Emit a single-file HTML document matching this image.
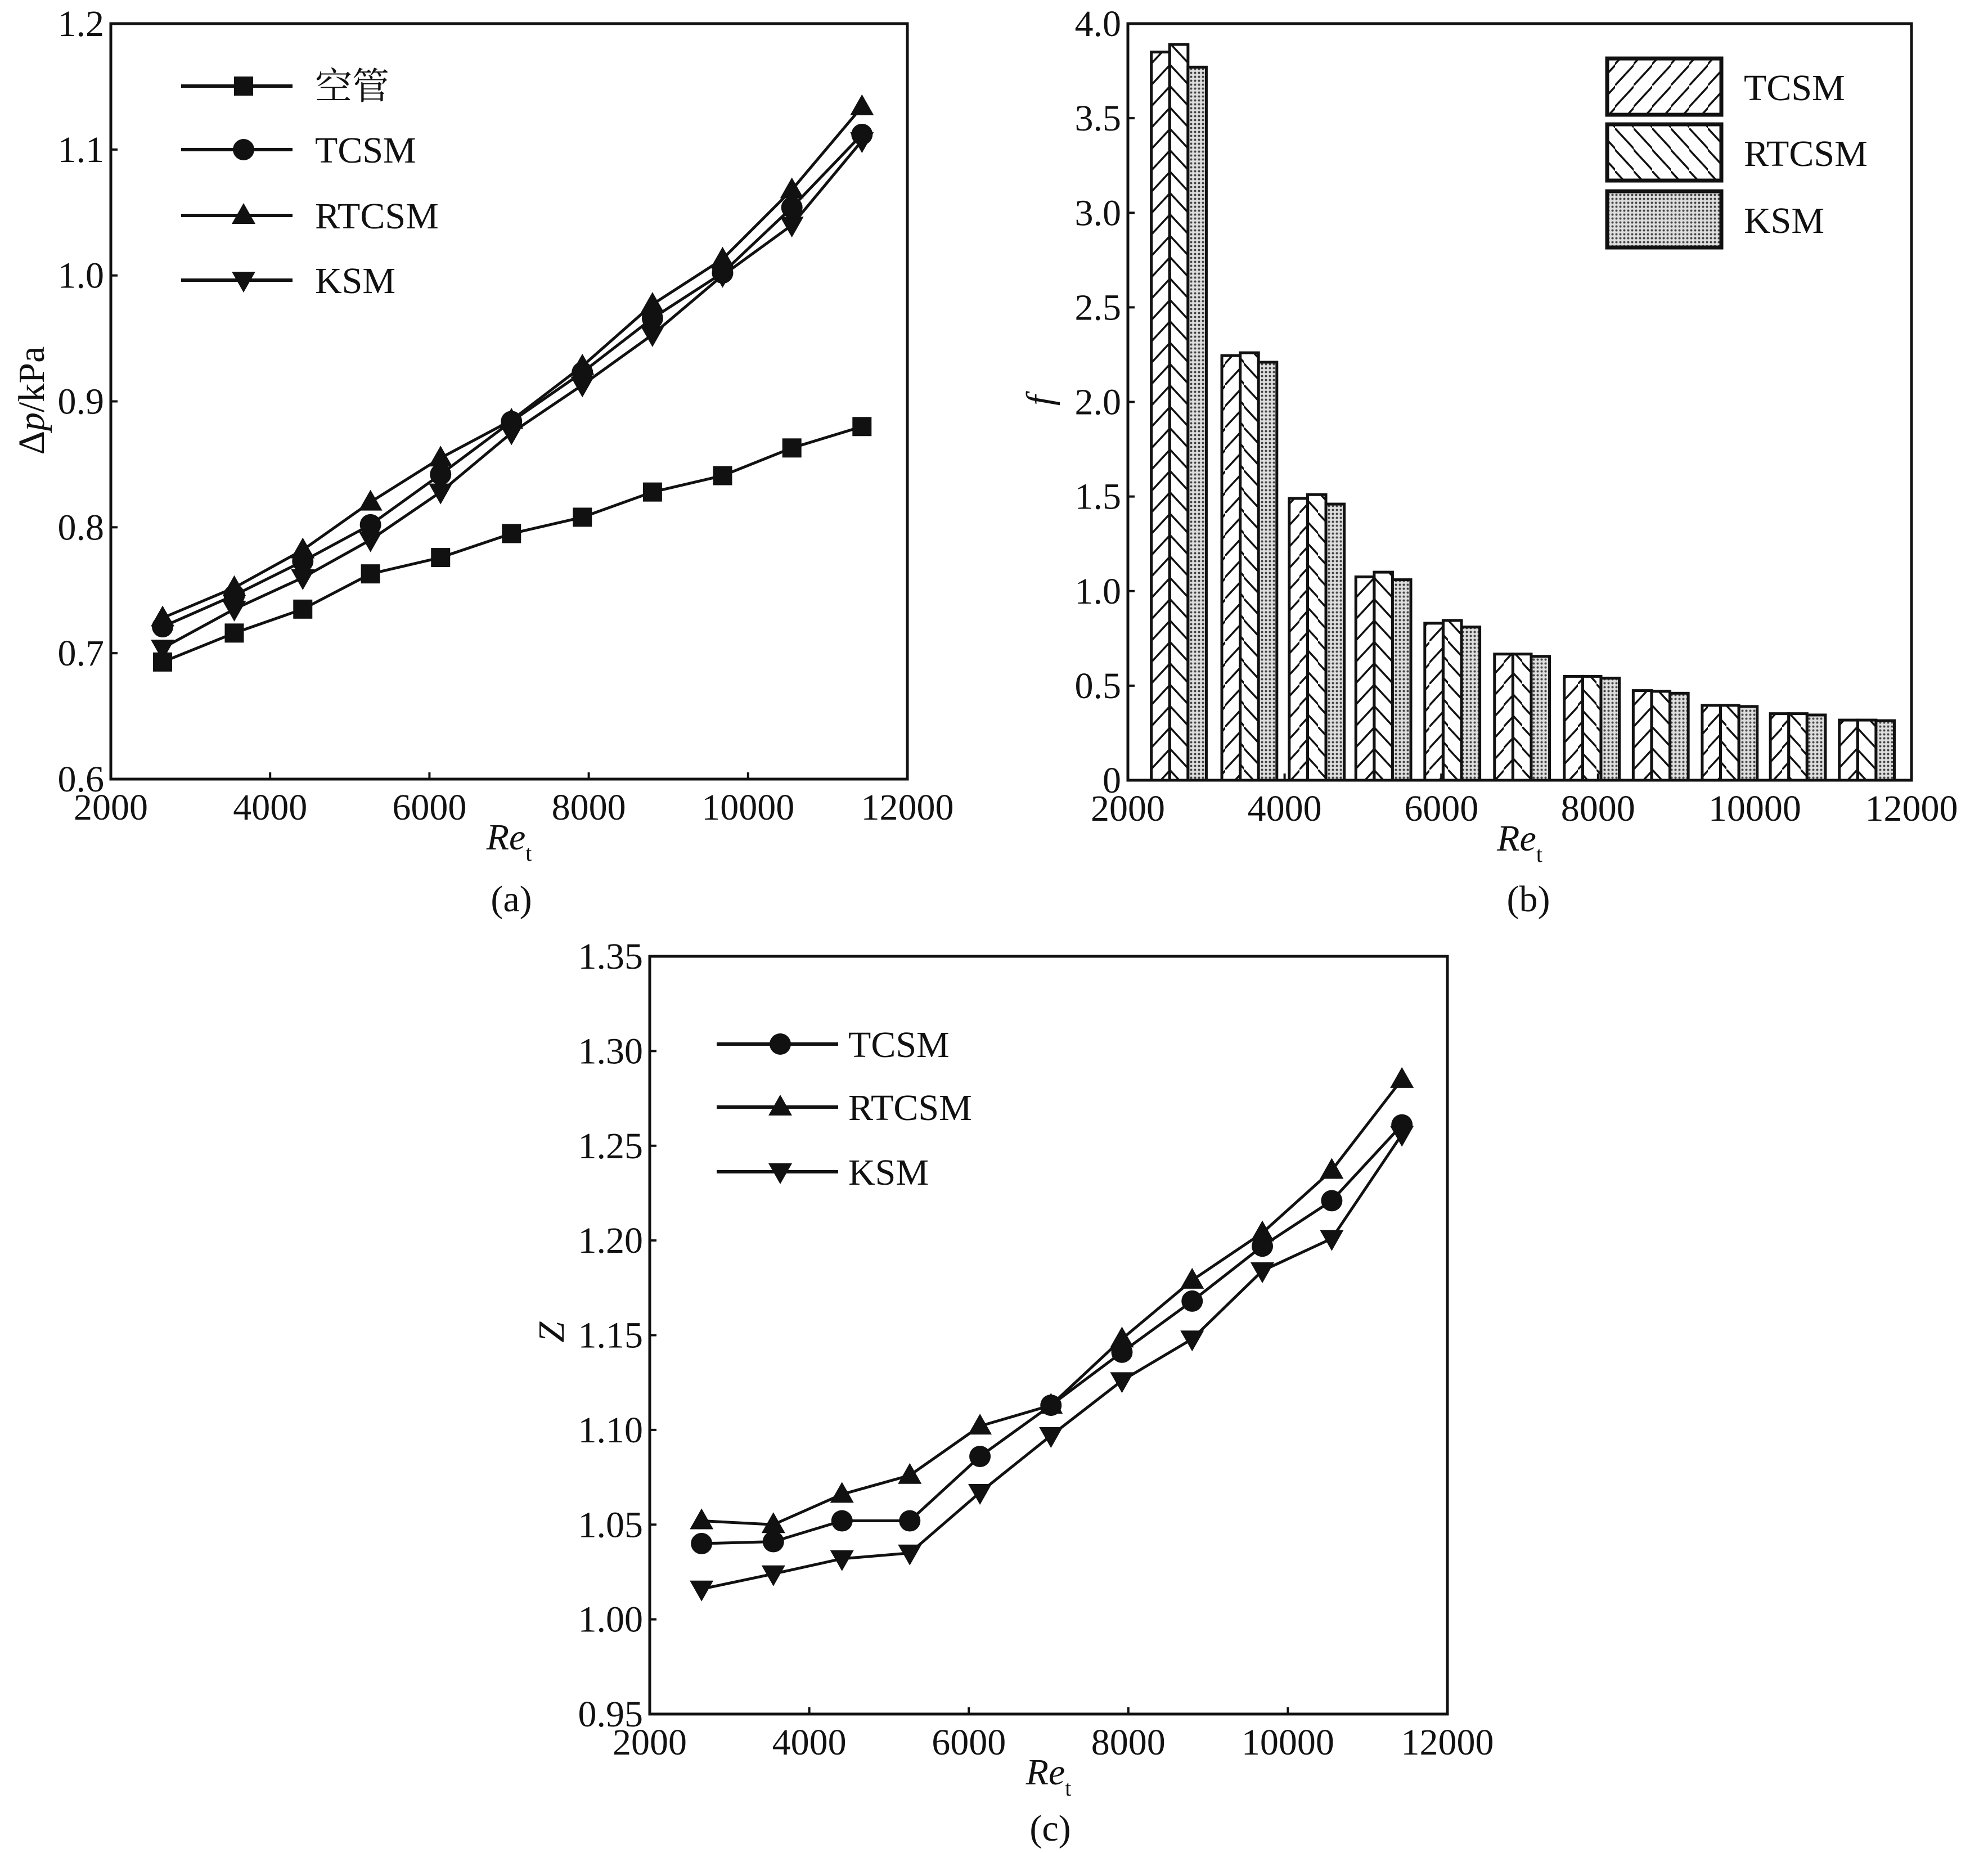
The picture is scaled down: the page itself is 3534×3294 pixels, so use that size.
<!DOCTYPE html>
<html><head><meta charset="utf-8"><style>
html,body{margin:0;padding:0;background:#fff;}
svg{display:block;}
text{font-family:"Liberation Serif","Noto Serif CJK SC",serif;}
</style></head><body>
<svg id="fig" width="3534" height="3294" viewBox="0 0 3534 3294" xmlns="http://www.w3.org/2000/svg">
<defs>
<pattern id="hatchF" patternUnits="userSpaceOnUse" width="33" height="76"><path d="M-2,78 L35,38 M-2,40 L35,0" stroke="#111" stroke-width="3.5" fill="none"/></pattern>
<pattern id="hatchB" patternUnits="userSpaceOnUse" width="33" height="76"><path d="M-2,-2 L35,38 M-2,36 L35,76" stroke="#111" stroke-width="3.5" fill="none"/></pattern>
<pattern id="dots" patternUnits="userSpaceOnUse" width="7" height="7"><rect width="7" height="7" fill="#ddd"/><circle cx="3.5" cy="3.5" r="2" fill="#444"/></pattern>
</defs>
</svg>
<script>
const reX = [2650,3550,4410,5260,6140,7030,7920,8800,9680,10550,11430];
const aEmpty = [0.693,0.716,0.735,0.763,0.776,0.795,0.808,0.828,0.841,0.863,0.880];
const aTCSM = [0.721,0.746,0.773,0.802,0.842,0.884,0.923,0.966,1.002,1.054,1.112];
const aRTCSM = [0.728,0.752,0.782,0.820,0.855,0.885,0.928,0.977,1.013,1.068,1.134];
const aKSM = [0.704,0.735,0.760,0.790,0.828,0.875,0.913,0.953,1.000,1.040,1.107];
const bTCSM = [3.85,2.245,1.49,1.075,0.83,0.667,0.549,0.474,0.396,0.352,0.318];
const bRTCSM = [3.89,2.26,1.51,1.10,0.845,0.667,0.549,0.47,0.396,0.352,0.318];
const bKSM = [3.77,2.21,1.46,1.06,0.81,0.655,0.54,0.46,0.39,0.345,0.315];
const cTCSM = [1.040,1.041,1.052,1.052,1.086,1.113,1.141,1.168,1.197,1.221,1.261];
const cRTCSM = [1.052,1.050,1.066,1.076,1.102,1.113,1.148,1.179,1.204,1.237,1.285];
const cKSM = [1.016,1.024,1.032,1.035,1.067,1.097,1.126,1.148,1.184,1.201,1.256];
const xTicks = [2000,4000,6000,8000,10000,12000];
const aTicks = ["0.6","0.7","0.8","0.9","1.0","1.1","1.2"];
const bTicks = ["0","0.5","1.0","1.5","2.0","2.5","3.0","3.5","4.0"];
const cTicks = ["0.95","1.00","1.05","1.10","1.15","1.20","1.25","1.30","1.35"];

const NS="http://www.w3.org/2000/svg";
const FS=66;
const svg=document.getElementById('fig');
function el(tag,attrs,parent,text){const e=document.createElementNS(NS,tag);for(const k in attrs)e.setAttribute(k,attrs[k]);if(tag==='text')e.setAttribute('font-family','"Liberation Serif","Noto Serif CJK SC",serif');if(text!==undefined)e.textContent=text;(parent||svg).appendChild(e);return e;}

function makeAxes(g,P,yTicks,ymin,ymax){
  const sx=v=>P.x0+(v-2000)/10000*(P.x1-P.x0);
  const sy=v=>P.y1-(v-ymin)/(ymax-ymin)*(P.y1-P.y0);
  const fr=el('rect',{x:P.x0,y:P.y0,width:P.x1-P.x0,height:P.y1-P.y0,fill:'none',stroke:'#111','stroke-width':5},g);
  
  
  xTicks.forEach(t=>{
    const tk=el('line',{x1:sx(t),x2:sx(t),y1:P.y1,y2:P.y1-12,stroke:'#111','stroke-width':4},g);
    
    
    const tl=el('text',{x:sx(t),y:P.y1+72,'font-size':FS,'text-anchor':'middle',fill:'#111'},g,String(t));
    
    
  });
  yTicks.forEach(t=>{
    const v=parseFloat(t);
    const tk=el('line',{x1:P.x0,x2:P.x0+12,y1:sy(v),y2:sy(v),stroke:'#111','stroke-width':4},g);
    
    
    const tl=el('text',{x:P.x0-12,y:sy(v)+22,'font-size':FS,'text-anchor':'end',fill:'#111'},g,t);
    
    
  });
  const xt=el('text',{x:(P.x0+P.x1)/2,y:P.y1+125,'font-size':FS,'text-anchor':'middle','font-style':'italic',fill:'#111'},g);
  
  
  el('tspan',{},xt,'Re');
  el('tspan',{'font-size':40,'font-style':'normal',dy:20},xt,'t');
  return {sx,sy};
}
function marker(g,type,x,y){
  let m;
  if(type==='square')m=el('rect',{x:x-17,y:y-17,width:34,height:34,fill:'#111'},g);
  else if(type==='circle')m=el('circle',{cx:x,cy:y,r:19,fill:'#111'},g);
  else if(type==='up')m=el('polygon',{points:`${x},${y-22} ${x+21},${y+15} ${x-21},${y+15}`,fill:'#111'},g);
  else m=el('polygon',{points:`${x},${y+22} ${x+21},${y-15} ${x-21},${y-15}`,fill:'#111'},g);
  return m;
}
function series(g,ax,vals,type,name){
  const sg=el('g',{},g);
  
  
  const pts=vals.map((v,i)=>ax.sx(reX[i])+','+ax.sy(v)).join(' ');
  el('polyline',{points:pts,fill:'none',stroke:'#111','stroke-width':5},sg);
  vals.forEach((v,i)=>{const m=marker(sg,type,ax.sx(reX[i]),ax.sy(v));
    
    });
}
function lineLegend(g,items,x0,x1,xm,xt){
  items.forEach(it=>{
    const lg=el('g',{},g);
    
    
    el('line',{x1:x0,x2:x1,y1:it.y,y2:it.y,stroke:'#111','stroke-width':6},lg);
    marker(lg,it.type,xm,it.y);
    el('text',{x:xt,y:it.y+23,'font-size':FS,fill:'#111'},lg,it.label);
  });
}

// Panel A
const gA=el('g',{});


const axA=makeAxes(gA,{x0:197,x1:1613,y0:42,y1:1385},aTicks,0.6,1.2);
series(gA,axA,aEmpty,'square','empty-tube');
series(gA,axA,aTCSM,'circle','tcsm');
series(gA,axA,aRTCSM,'up','rtcsm');
series(gA,axA,aKSM,'down','ksm');
lineLegend(gA,[{y:153,type:'square',label:'空管'},{y:266,type:'circle',label:'TCSM'},{y:383,type:'up',label:'RTCSM'},{y:498,type:'down',label:'KSM'}],322,520,433,560);
const yA=el('text',{transform:'translate(78,712) rotate(-90)','font-size':FS,'text-anchor':'middle',fill:'#111'},gA);


el('tspan',{},yA,'Δ');el('tspan',{'font-style':'italic'},yA,'p');el('tspan',{},yA,'/kPa');
const capA=el('text',{x:909,y:1620,'font-size':FS,'text-anchor':'middle',fill:'#111'},gA,'(a)');



// Panel B
const gB=el('g',{});


const PB={x0:2005,x1:3398,y0:42,y1:1387};
const axB=makeAxes(gB,PB,bTicks,0,4.0);
const bw=(PB.x1-PB.x0)*234/10000;
[[bTCSM,'url(#hatchF)','tcsm'],[bRTCSM,'url(#hatchB)','rtcsm'],[bKSM,'url(#dots)','ksm']].forEach((s,k)=>{
  s[0].forEach((v,i)=>{
    const cx=axB.sx(reX[i])+(k-1)*bw;
    const r=el('rect',{x:cx-bw/2,y:axB.sy(v),width:bw,height:axB.sy(0)-axB.sy(v),fill:s[1],stroke:'#111','stroke-width':5},gB);
    
    
  });
});
el('rect',{x:PB.x0,y:PB.y0,width:PB.x1-PB.x0,height:PB.y1-PB.y0,fill:'none',stroke:'#111','stroke-width':5},gB);
[['TCSM','url(#hatchF)',104],['RTCSM','url(#hatchB)',221],['KSM','url(#dots)',340]].forEach(l=>{
  const lg=el('g',{},gB);
  
  
  el('rect',{x:2857,y:l[2],width:203,height:100,fill:l[1],stroke:'#111','stroke-width':7},lg);
  el('text',{x:3100,y:l[2]+74,'font-size':FS,fill:'#111'},lg,l[0]);
});
const yB=el('text',{transform:'translate(1870,712) rotate(-90)','font-size':FS,'text-anchor':'middle','font-style':'italic',fill:'#111'},gB,'f');


const capB=el('text',{x:2717,y:1620,'font-size':FS,'text-anchor':'middle',fill:'#111'},gB,'(b)');



// Panel C
const gC=el('g',{});


const axC=makeAxes(gC,{x0:1155,x1:2573,y0:1700,y1:3047},cTicks,0.95,1.35);
series(gC,axC,cTCSM,'circle','tcsm');
series(gC,axC,cRTCSM,'up','rtcsm');
series(gC,axC,cKSM,'down','ksm');
lineLegend(gC,[{y:1856,type:'circle',label:'TCSM'},{y:1968,type:'up',label:'RTCSM'},{y:2083,type:'down',label:'KSM'}],1274,1490,1387,1508);
const yC=el('text',{transform:'translate(1002,2368) rotate(-90)','font-size':FS,'text-anchor':'middle','font-style':'italic',fill:'#111'},gC,'Z');


const capC=el('text',{x:1867,y:3272,'font-size':FS,'text-anchor':'middle',fill:'#111'},gC,'(c)');


</script>
</body></html>
